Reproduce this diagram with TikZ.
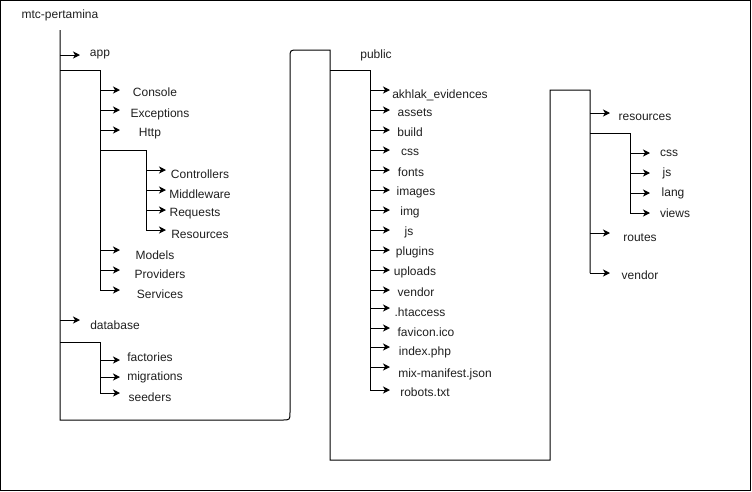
\documentclass[tikz,border=0pt]{standalone}
\usepackage{fontspec}
\setmainfont{Liberation Sans}
\usetikzlibrary{arrows.meta}
\tikzset{
  ln/.style={line width=1pt, line join=miter},
  arr/.style={line width=1pt, -{Stealth[length=7pt,width=7pt,inset=2pt]}},
  lbl/.style={font=\fontsize{12}{14}\selectfont, inner sep=0pt, text=black!88},
}
\newcommand{\branch}[7]{%
  \coordinate (#1-s) at (#2,#4);
  \coordinate (#1-e) at (#3,#4);
  \draw[arr] (#1-s) -- (#1-e);
  \node[lbl] (#1) at (#5,#6) {#7};
}
\begin{document}
\begin{tikzpicture}[x=1pt,y=-1pt]
\useasboundingbox (0,0) rectangle (752,491);
\draw[ln] (0.5,0.5) rectangle (750.5,490.5);
\node[lbl] (root) at (60,15) {mtc-pertamina};
% main trunk
\coordinate (t0) at (60,30);
\draw[ln] (t0) -- (60,420) -- (282,420) .. controls (290,420) .. (290,412)
  -- (290,58) .. controls (290,50) .. (298,50) -- (330,50) -- (330,460)
  -- (550,460) -- (550,90) -- (590,90) -- (590,273);
% app
\branch{app}{60}{80}{55}{100}{55}{app}
\draw[ln] (60,70) -- (100,70) -- (100,290);
\branch{console}{100}{120}{90}{155}{92}{Console}
\branch{exceptions}{100}{120}{110}{160}{114}{Exceptions}
\branch{http}{100}{120}{130}{150}{134}{Http}
\draw[ln] (100,150) -- (146,150) -- (146,230);
\branch{controllers}{146}{166}{170}{200}{174}{Controllers}
\branch{middleware}{146}{166}{190}{200}{194}{Middleware}
\branch{requests}{146}{166}{210}{195}{214}{Requests}
\branch{resources}{146}{166}{230}{200}{234}{Resources}
\branch{models}{100}{120}{250}{155}{255}{Models}
\branch{providers}{100}{120}{270}{160}{274}{Providers}
\branch{services}{100}{120}{290}{160}{294}{Services}
% database
\branch{database}{60}{80}{320}{115}{325}{database}
\draw[ln] (60,342) -- (100,342) -- (100,393);
\branch{factories}{100}{120}{360}{150}{357}{factories}
\branch{migrations}{100}{120}{377}{155}{377}{migrations}
\branch{seeders}{100}{120}{393}{150}{397}{seeders}
% public
\node[lbl] (public) at (376,55) {public};
\draw[ln] (330,70) -- (370,70) -- (370,390);
\branch{akhlak}{370}{390}{90}{440}{95}{akhlak\_evidences}
\branch{assets}{370}{390}{110}{415}{113}{assets}
\branch{build}{370}{390}{130}{410}{132}{build}
\branch{pcss}{370}{390}{150}{410}{152}{css}
\branch{fonts}{370}{390}{170}{411}{172}{fonts}
\branch{images}{370}{390}{190}{416}{192}{images}
\branch{img}{370}{390}{210}{410}{212}{img}
\branch{pjs}{370}{390}{230}{409}{232}{js}
\branch{plugins}{370}{390}{250}{415}{252}{plugins}
\branch{uploads}{370}{390}{270}{415}{272}{uploads}
\branch{pvendor}{370}{390}{290}{416}{292}{vendor}
\branch{htaccess}{370}{390}{308}{420}{312}{.htaccess}
\branch{favicon}{370}{390}{328}{426}{332}{favicon.ico}
\branch{index}{370}{390}{347}{425}{352}{index.php}
\branch{mix}{370}{390}{367}{445}{374}{mix-manifest.json}
\branch{robots}{370}{390}{390}{425}{392}{robots.txt}
% right
\branch{rres}{590}{610}{113}{645}{117}{resources}
\draw[ln] (590,133) -- (630,133) -- (630,213);
\branch{rcss}{630}{650}{153}{669}{153}{css}
\branch{rjs}{630}{650}{173}{667}{173}{js}
\branch{rlang}{630}{650}{193}{673}{193}{lang}
\branch{rviews}{630}{650}{213}{675}{213}{views}
\branch{routes}{590}{610}{233}{640}{238}{routes}
\branch{rvendor}{590}{610}{273}{640}{275}{vendor}
\end{tikzpicture}
\end{document}
